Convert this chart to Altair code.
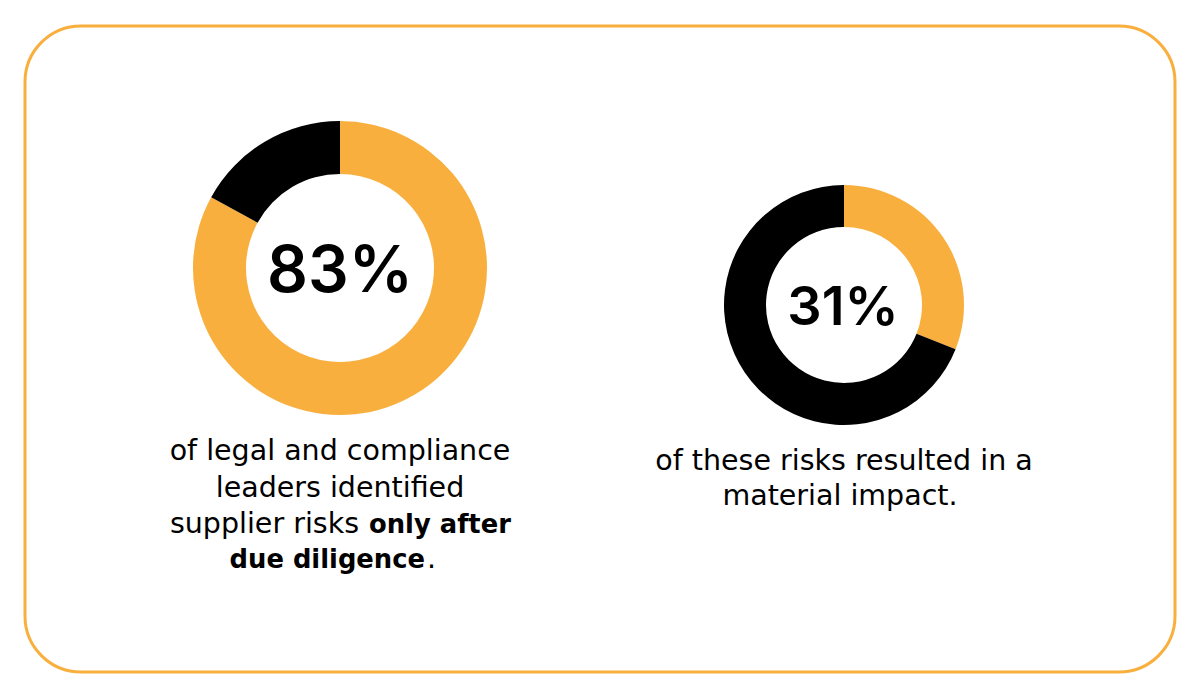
import altair as alt
import pandas as pd

# ---- data ----
left_parts = ["identified after due diligence", "other"]
left_values = [83, 17]
right_parts = ["resulted in material impact", "other"]
right_values = [31, 69]
left_label = "83%"
right_label = "31%"
left_caption = ["of legal and compliance", "leaders identified"]
left_caption_l3 = ["supplier risks", "only after"]
left_caption_l4 = ["due diligence", "."]
right_caption = ["of these risks resulted in a", "material impact."]

ORANGE = "#F8AF3E"
BLACK = "#000000"
NUM_FONT = "Inter"
CAP_FONT = "DejaVu Sans"

left_df = pd.DataFrame({"part": left_parts, "value": left_values,
                        "kind": ["hi", "rest"], "ord": [0, 1]})
right_df = pd.DataFrame({"part": right_parts, "value": right_values,
                         "kind": ["hi", "rest"], "ord": [0, 1]})

color = alt.Color("kind:N", scale=alt.Scale(domain=["hi", "rest"], range=[ORANGE, BLACK]), legend=None)

frame = alt.Chart(alt.Data(values=[{}])).mark_rect(
    fill="white", stroke=ORANGE, strokeWidth=3, cornerRadius=56
).encode(x=alt.value(25), x2=alt.value(1175), y=alt.value(26), y2=alt.value(672))

left_arc = alt.Chart(left_df).mark_arc(radius=147, radius2=94).encode(
    theta=alt.Theta("value:Q", stack=True), color=color, order=alt.Order("ord:Q"),
    x=alt.value(340), y=alt.value(268))
right_arc = alt.Chart(right_df).mark_arc(radius=120, radius2=78).encode(
    theta=alt.Theta("value:Q", stack=True), color=color, order=alt.Order("ord:Q"),
    x=alt.value(844), y=alt.value(305))

def txt(s, x, y, size, weight="normal", align="center", font=CAP_FONT):
    return alt.Chart(alt.Data(values=[{"t": s}])).mark_text(
        font=font, fontSize=size, fontWeight=weight, align=align, baseline="alphabetic",
        color=BLACK
    ).encode(text="t:N", x=alt.value(x), y=alt.value(y))

CS = 28.5
BS = 25.8
layers = [frame, left_arc, right_arc,
          txt(left_label, 340, 292, 64, 600, font=NUM_FONT),
          txt(right_label, 843, 325, 54, 600, font=NUM_FONT),
          txt(left_caption[0], 340, 460, CS),
          txt(left_caption[1], 340, 497, CS),
          txt(left_caption_l3[0], 359, 533, CS, "normal", "right"),
          txt(left_caption_l3[1], 369, 533, BS, "bold", "left"),
          txt(left_caption_l4[0], 425, 568, BS, "bold", "right"),
          txt(left_caption_l4[1], 427, 568, CS, "normal", "left"),
          txt(right_caption[0], 844, 470, CS),
          txt(right_caption[1], 840, 505, CS)]

chart = alt.layer(*layers).properties(
    width=1200, height=700, autosize=alt.AutoSizeParams(type="none"), padding=0,
    background="white"
).configure_view(stroke=None)

chart.save("out.html", embed_options={"renderer": "svg", "actions": False})
